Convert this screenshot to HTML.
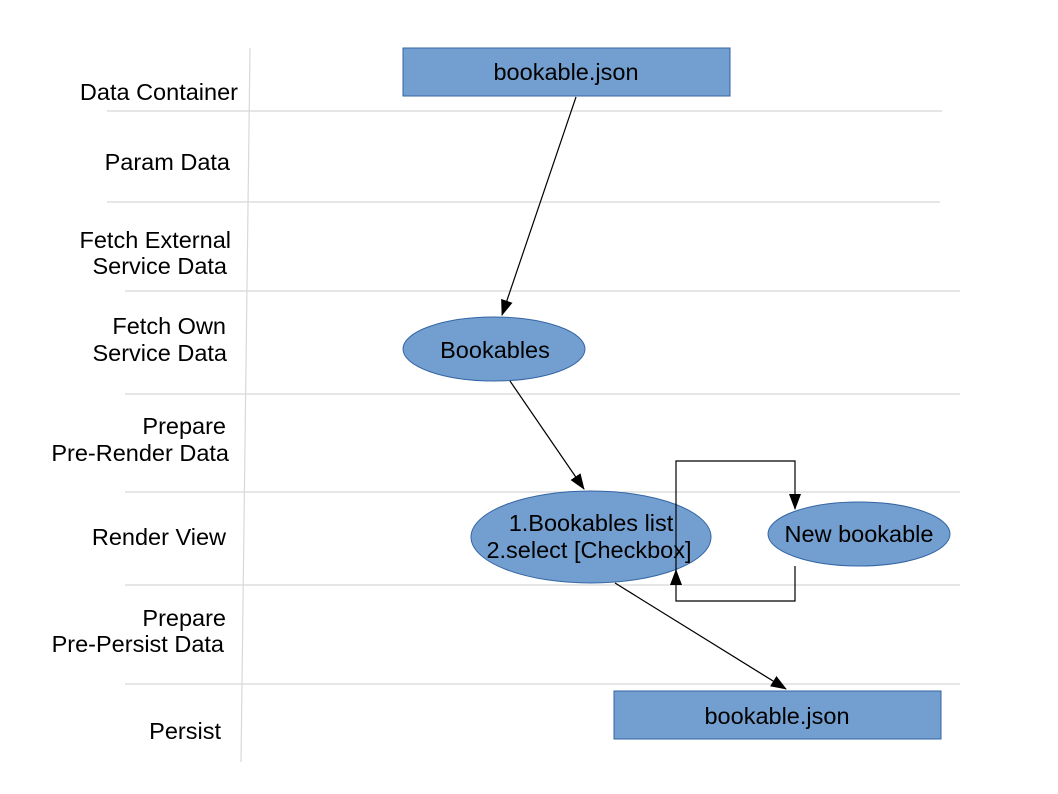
<!DOCTYPE html>
<html><head><style>body{margin:0;background:#fff}svg{display:block}</style></head><body>
<svg width="1058" height="794" xmlns="http://www.w3.org/2000/svg" font-family="Liberation Sans, sans-serif">
<defs><marker id="a" markerWidth="16" markerHeight="12" refX="15" refY="6" orient="auto" markerUnits="userSpaceOnUse"><path d="M0,0 L16,6 L0,12 z" fill="#000"/></marker></defs>
<g stroke="#d8d8d8" stroke-width="1.2">
<line x1="250" y1="48" x2="241" y2="762"/>
<line x1="107" y1="111" x2="942" y2="111"/>
<line x1="107" y1="202" x2="940" y2="202"/>
<line x1="125" y1="291" x2="960" y2="291"/>
<line x1="125" y1="394" x2="960" y2="394"/>
<line x1="125" y1="492" x2="960" y2="492"/>
<line x1="125" y1="585" x2="960" y2="585"/>
<line x1="125" y1="684" x2="960" y2="684"/>
</g>
<g font-size="23.5" fill="#000" text-anchor="end">
<text x="238" y="100">Data Container</text>
<text x="230" y="170">Param Data</text>
<text x="231" y="248">Fetch External</text>
<text x="227" y="274">Service Data</text>
<text x="226" y="334">Fetch Own</text>
<text x="227" y="361">Service Data</text>
<text x="226" y="434">Prepare</text>
<text x="229" y="461">Pre-Render Data</text>
<text x="226" y="545">Render View</text>
<text x="226" y="626">Prepare</text>
<text x="224" y="652">Pre-Persist Data</text>
<text x="221" y="739">Persist</text>
</g>
<g fill="#729fcf" stroke="#3465a4" stroke-width="1">
<rect x="403" y="48" width="327" height="48"/>
<rect x="614" y="691" width="327" height="48"/>
<ellipse cx="494" cy="349" rx="91" ry="32"/>
<ellipse cx="591" cy="537" rx="120" ry="46"/>
<ellipse cx="859" cy="534" rx="91" ry="32"/>
</g>
<g font-size="23.5" fill="#000" text-anchor="middle">
<text x="566" y="80">bookable.json</text>
<text x="777" y="724">bookable.json</text>
<text x="495" y="358">Bookables</text>
<text x="591" y="531">1.Bookables list</text>
<text x="589" y="558">2.select [Checkbox]</text>
<text x="859" y="542">New bookable</text>
</g>
<g stroke="#000" stroke-width="1.2" fill="none" marker-end="url(#a)">
<line x1="576" y1="97" x2="502" y2="315"/>
<line x1="510" y1="381" x2="584" y2="489"/>
<line x1="615" y1="583" x2="786" y2="689"/>
<polyline points="676,574 676,461 795,461 795,509"/>
<polyline points="795,566 795,601 676,601 676,570"/>
</g>
</svg>
</body></html>
